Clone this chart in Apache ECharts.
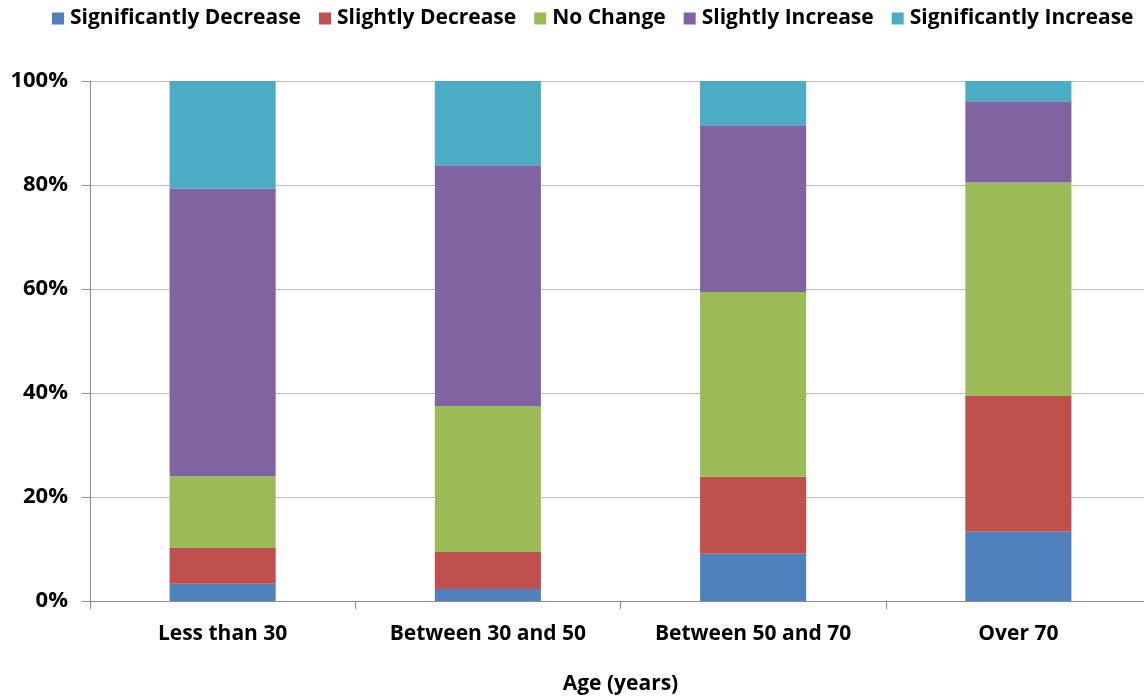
<!DOCTYPE html>
<html><head><meta charset="utf-8">
<script src="https://cdn.jsdelivr.net/npm/echarts@6/dist/echarts.min.js"></script>
<style>html,body{margin:0;padding:0;background:#fff}#c{width:1144px;height:697px}</style>
</head><body><div id="c"></div>
<script>
const categories = ['Less than 30', 'Between 30 and 50', 'Between 50 and 70', 'Over 70'];
const seriesNames = ['Significantly Decrease', 'Slightly Decrease', 'No Change', 'Slightly Increase', 'Significantly Increase'];
const sigDecrease = [3.3, 2.3, 9.1, 13.3];
const slDecrease = [6.9, 7.1, 14.8, 26.1];
const noChange = [13.8, 28.1, 35.5, 41.1];
const slIncrease = [55.3, 46.3, 32.1, 15.6];
const sigIncrease = [20.7, 16.2, 8.5, 3.9];
const colors = ['#4f81bd', '#c0504d', '#9bbb59', '#8064a2', '#4bacc6'];
const yTicks = [0, 20, 40, 60, 80, 100];

const allData = [sigDecrease, slDecrease, noChange, slIncrease, sigIncrease];
const font = '"Open Sans", Lato, sans-serif';
const chart = echarts.init(document.getElementById('c'), null, {renderer: 'canvas'});
chart.setOption({
  animation: false,
  color: colors,
  textStyle: {fontFamily: font},
  legend: {
    top: 8, left: 52, width: 1092, padding: 0,
    itemWidth: 12, itemHeight: 12, itemGap: 18,
    icon: 'rect',
    textStyle: {fontSize: 21, fontWeight: 'bold', color: '#000', fontFamily: font, padding: [0, 0, 0, 1]},
    data: seriesNames
  },
  grid: {left: 90, width: 1061, top: 81, bottom: 96, containLabel: false, outerBoundsMode: 'none'},
  xAxis: {
    type: 'category', data: categories,
    name: 'Age (years)', nameLocation: 'middle', nameGap: 73,
    nameTextStyle: {fontSize: 21, fontWeight: 'bold', color: '#000', fontFamily: font},
    axisLine: {lineStyle: {color: '#8c8c8c', width: 1}},
    axisTick: {show: true, length: 8, lineStyle: {color: '#8c8c8c'}},
    axisLabel: {fontSize: 21, fontWeight: 'bold', color: '#000', margin: 23, fontFamily: font}
  },
  yAxis: {
    type: 'value', min: 0, max: 100, interval: 20,
    axisLine: {show: true, lineStyle: {color: '#8c8c8c', width: 1}},
    axisTick: {show: true, length: 8, lineStyle: {color: '#8c8c8c'}},
    splitLine: {lineStyle: {color: '#bfbfbf', width: 1}},
    axisLabel: {fontSize: 22, fontWeight: 'bold', color: '#000', margin: 22, fontFamily: font,
      formatter: v => yTicks.includes(v) ? v + '%' : ''}
  },
  series: seriesNames.map((n, i) => ({
    name: n, type: 'bar', stack: 'total', barWidth: '40%',
    data: allData[i], itemStyle: {color: colors[i]}
  }))
});
</script></body></html>
